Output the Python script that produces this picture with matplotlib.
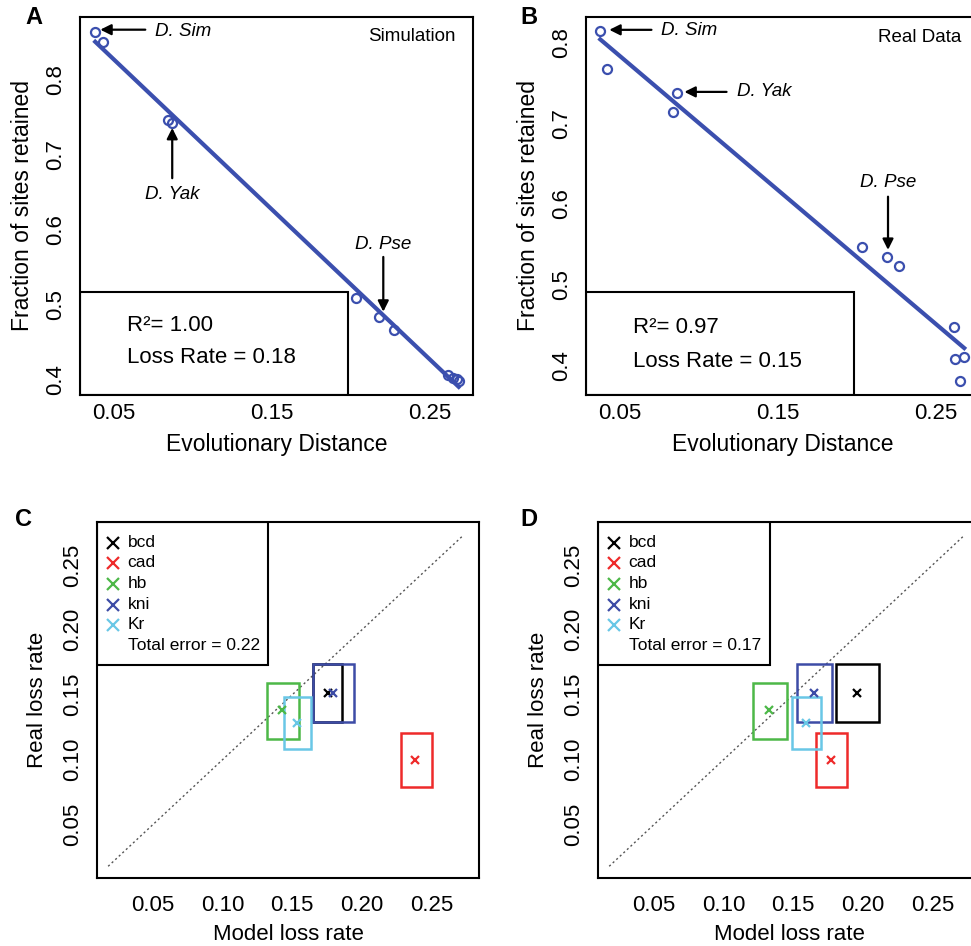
import numpy as np
import matplotlib
matplotlib.use("Agg")
import matplotlib.pyplot as plt
from matplotlib.patches import Rectangle

plt.rcParams['font.family'] = ['Liberation Sans', 'DejaVu Sans']

# --- panel A / B data: evolutionary distance vs fraction of sites retained
sim_dist = [0.0386, 0.0437, 0.0847, 0.0872, 0.203, 0.218, 0.227, 0.261, 0.2645, 0.267, 0.268]
sim_frac = [0.864, 0.851, 0.747, 0.743, 0.509, 0.484, 0.467, 0.407, 0.403, 0.401, 0.399]
real_dist = [0.038, 0.0424, 0.0867, 0.0842, 0.203, 0.219, 0.2266, 0.261, 0.262, 0.2677, 0.265]
real_frac = [0.814, 0.768, 0.738, 0.714, 0.547, 0.534, 0.523, 0.447, 0.407, 0.410, 0.380]
sim_stats = ["R\u00b2= 1.00", "Loss Rate = 0.18"]
real_stats = ["R\u00b2= 0.97", "Loss Rate = 0.15"]

# --- panel C / D data: model vs real loss rate per factor
genes = ["bcd", "cad", "hb", "kni", "Kr"]
gene_colors = ["black", "#ee2a2a", "#4db848", "#3d4ca6", "#69c7e6"]
real_rate = [0.1515, 0.100, 0.1385, 0.1515, 0.1285]
real_lo = [0.1292, 0.0792, 0.116, 0.1292, 0.1085]
real_hi = [0.1738, 0.1208, 0.159, 0.1738, 0.1485]
c_model = [0.1754, 0.2384, 0.1424, 0.179, 0.1537]
c_lo = [0.1646, 0.2277, 0.1317, 0.1646, 0.1438]
c_hi = [0.186, 0.250, 0.1546, 0.194, 0.1632]
d_model = [0.1957, 0.1768, 0.1326, 0.1652, 0.1594]
d_lo = [0.1804, 0.166, 0.121, 0.1529, 0.1493]
d_hi = [0.2116, 0.1884, 0.1457, 0.1775, 0.1696]
c_error = "Total error = 0.22"
d_error = "Total error = 0.17"

blue = '#3b4fae'
fig = plt.figure(figsize=(9.71, 9.46), dpi=100)


def style_axes(ax, xpad=6):
    for s in ax.spines.values():
        s.set_linewidth(1.5)
    ax.tick_params(length=0, labelsize=16)
    ax.tick_params(axis='x', pad=xpad)
    ax.tick_params(axis='y', pad=10)
    for lab in ax.get_yticklabels():
        lab.set_rotation(90)
        lab.set_va('center')


def distance_panel(rect, x, y, stats, corner, box_top, ylim, notes, letter, lx):
    ax = fig.add_axes(rect)
    ax.set_xlim(0.029, 0.277)
    ax.set_ylim(*ylim)
    ax.set_xticks([0.05, 0.15, 0.25])
    ax.set_yticks([0.4, 0.5, 0.6, 0.7, 0.8])
    style_axes(ax)
    ax.set_xlabel("Evolutionary Distance", fontsize=16.5, labelpad=6)
    ax.set_ylabel("Fraction of sites retained", fontsize=16.5, labelpad=8)

    slope, icpt = np.polyfit(x, y, 1)
    xs = np.array([min(x), max(x)])
    ax.plot(xs, icpt + slope * xs, color=blue, lw=3, zorder=2)
    ax.plot(x, y, 'o', mfc='none', mec=blue, ms=6.5, mew=1.6, zorder=3)

    # stats box in lower left
    x0, y0 = ax.get_xlim()[0], ax.get_ylim()[0]
    ax.add_patch(Rectangle((x0, y0), 0.198 - x0, box_top - y0, fill=False,
                           ec='black', lw=1.5, zorder=4))
    ax.text(0.0585, box_top - 0.044, stats[0], fontsize=16, va='center')
    ax.text(0.0585, box_top - 0.087, stats[1], fontsize=16, va='center')
    ax.text(0.2662, ylim[1] - 0.026, corner, fontsize=13.5, ha='right', va='center')

    for name, (tx, ty), (ax0, ay0), (ax1, ay1), ha in notes:
        ax.text(tx, ty, name, fontsize=13.5, style='italic', ha=ha, va='center')
        ax.annotate("", xy=(ax1, ay1), xytext=(ax0, ay0),
                    arrowprops=dict(arrowstyle='-|>', color='black', lw=1.6,
                                    mutation_scale=16, shrinkA=0, shrinkB=0))
    fig.text(lx / 971, 1 - 17 / 946, letter, fontsize=17,
             fontweight='bold', va='center')
    return ax


def rate_panel(rect, model, lo, hi, err, letter, lx):
    ax = fig.add_axes(rect)
    ax.set_xlim(0.01, 0.284)
    ax.set_ylim(0.009, 0.283)
    ticks = [0.05, 0.10, 0.15, 0.20, 0.25]
    ax.set_xticks(ticks)
    ax.set_yticks(ticks)
    ax.set_xticklabels([f"{t:.2f}" for t in ticks])
    ax.set_yticklabels([f"{t:.2f}" for t in ticks])
    style_axes(ax, xpad=12)
    ax.set_xlabel("Model loss rate", fontsize=16, labelpad=6)
    ax.set_ylabel("Real loss rate", fontsize=16, labelpad=10)

    diag = np.array([0.018, 0.273])
    ax.plot(diag, diag, color='#555555', lw=1, ls=(0, (1.5, 2)), zorder=1)

    for i in range(len(genes)):
        ax.add_patch(Rectangle((lo[i], real_lo[i]), hi[i] - lo[i],
                               real_hi[i] - real_lo[i], fill=False,
                               ec=gene_colors[i], lw=1.8, zorder=2))
    for i in range(len(genes)):
        ax.plot(model[i], real_rate[i], 'x', color=gene_colors[i], ms=6,
                mew=1.6, zorder=3)

    # legend box
    x0 = ax.get_xlim()[0]
    y1 = ax.get_ylim()[1]
    ax.add_patch(Rectangle((x0, 0.173), 0.133 - x0, y1 - 0.173, fill=False,
                           ec='black', lw=1.5, zorder=4))
    rows = [0.2669, 0.2515, 0.2354, 0.2192, 0.2038, 0.1877]
    for i, g in enumerate(genes):
        ax.plot(0.0213, rows[i], 'x', color=gene_colors[i], ms=8.5, mew=1.6)
        ax.text(0.032, rows[i], g, fontsize=12.5, va='center')
    ax.text(0.032, rows[5], err, fontsize=12.5, va='center')
    fig.text(lx / 971, 1 - 519 / 946, letter, fontsize=17,
             fontweight='bold', va='center')
    return ax


distance_panel([0.0824, 0.5825, 0.4047, 0.3996], sim_dist, sim_frac, sim_stats,
               "Simulation", 0.517, (0.38, 0.884),
               [("D. Sim", (0.0765, 0.865), (0.0702, 0.867), (0.0418, 0.867), 'left'),
                ("D. Yak", (0.0872, 0.647), (0.0872, 0.669), (0.0872, 0.736), 'center'),
                ("D. Pse", (0.2204, 0.580), (0.2204, 0.564), (0.2204, 0.491), 'center')],
               "A", 25)
distance_panel([0.6035, 0.5825, 0.4047, 0.3996], real_dist, real_frac, real_stats,
               "Real Data", 0.491, (0.363, 0.832),
               [("D. Sim", (0.0766, 0.815), (0.0703, 0.816), (0.0437, 0.816), 'left'),
                ("D. Yak", (0.1240, 0.739), (0.1177, 0.739), (0.0911, 0.739), 'left'),
                ("D. Pse", (0.2196, 0.626), (0.2196, 0.609), (0.2196, 0.543), 'center')],
               "B", 520)
rate_panel([0.0999, 0.0719, 0.3934, 0.3763], c_model, c_lo, c_hi, c_error, "C", 15)
rate_panel([0.6159, 0.0719, 0.3934, 0.3763], d_model, d_lo, d_hi, d_error, "D", 520)

fig.savefig("out.png", dpi=100)
